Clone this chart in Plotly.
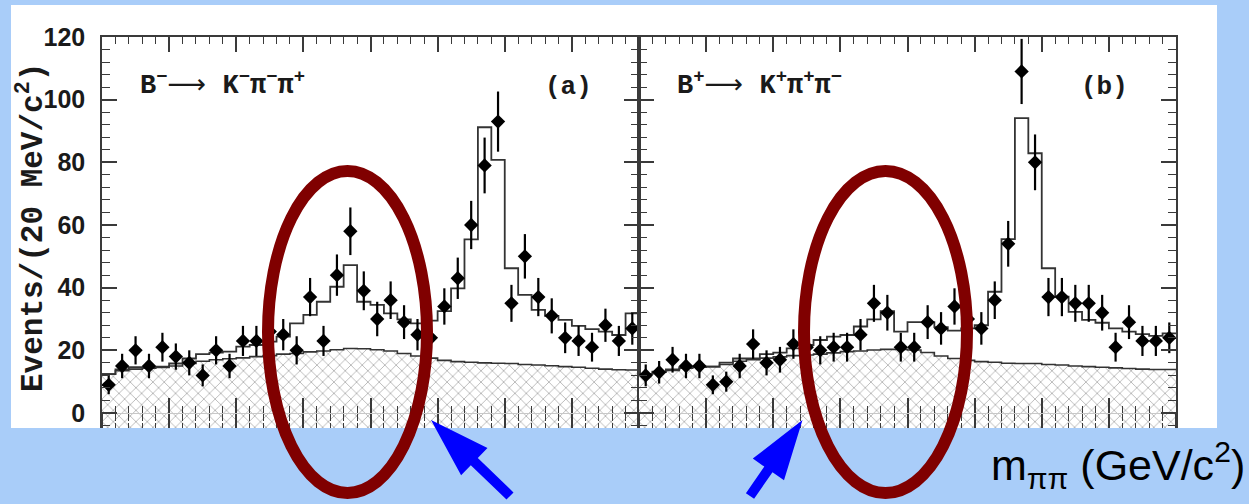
import numpy as np
import plotly.graph_objects as go

# ---------------- data ----------------
mass_lo, mass_hi, bin_w = 0.20, 1.00, 0.02   # m_pipi axis (GeV/c^2), 20 MeV bins
y_top = 120

counts_a = [9, 15, 20, 15, 21, 18, 16, 12, 20, 15, 23, 23, 26, 25, 20, 37, 23, 44, 58, 39,
            30, 36, 29, 25, 24, 34, 43, 60, 79, 93, 35, 50, 37, 31, 24, 23, 21, 28, 23, 27]
err_a = [3.0, 3.9, 4.5, 3.9, 4.6, 4.2, 4.0, 3.5, 4.5, 3.9, 4.8, 4.8, 5.1, 5.0, 4.5, 6.1, 4.8, 6.6, 7.6, 6.2,
         5.5, 6.0, 5.4, 5.0, 4.9, 5.8, 6.6, 7.7, 8.9, 9.6, 5.9, 7.1, 6.1, 5.6, 4.9, 4.8, 4.6, 5.3, 4.8, 5.2]
fit_a = [12.4, 13.9, 14.6, 14.6, 14.8, 15.8, 17.4, 18.8, 19.3, 19.6, 21.2, 21.7, 22.8, 24.4, 28.6, 31.3,
         35.5, 40.3, 47.2, 35.5, 34.5, 31.8, 29.9, 28.6, 29.5, 32.5, 39.8, 55.4, 91.2, 80.8, 46.2, 37.7,
         32.9, 31.0, 29.7, 27.8, 26.8, 26.0, 24.9, 31.8]
bkg_a = [12.4, 13.5, 14.0, 14.3, 14.5, 15.0, 15.8, 16.5, 17.0, 17.3, 17.6, 18.0, 18.3, 18.8, 19.0, 19.5,
         19.8, 20.2, 20.6, 20.5, 20.2, 19.8, 19.0, 18.2, 17.5, 16.8, 16.4, 16.2, 16.0, 15.9, 15.8, 15.5,
         15.3, 15.1, 14.8, 14.6, 14.3, 14.0, 13.8, 13.7]

counts_b = [12, 13, 17, 15, 15, 9, 10, 15, 22, 16, 17, 22, 21, 20, 21, 21, 25, 35, 32, 21,
            21, 29, 27, 34, 30, 27, 36, 54, 109, 80, 37, 37, 35, 35, 32, 21, 29, 23, 23, 24]
err_b = [3.5, 3.6, 4.1, 3.9, 3.9, 3.0, 3.2, 3.9, 4.7, 4.0, 4.1, 4.7, 4.6, 4.5, 4.6, 4.6, 5.0, 5.9, 5.7, 4.6,
         4.6, 5.4, 5.2, 5.8, 5.5, 5.2, 6.0, 7.3, 10.4, 8.9, 6.1, 6.1, 5.9, 5.9, 5.7, 4.6, 5.4, 4.8, 4.8, 4.9]
fit_b = [12.4, 13.2, 13.9, 14.6, 14.8, 14.8, 16.1, 17.4, 17.4, 18.8, 19.3, 20.6, 21.7, 23.3, 24.4, 24.9,
         27.6, 29.9, 32.5, 26.0, 29.0, 29.0, 27.4, 26.3, 27.0, 28.0, 38.7, 55.5, 94.1, 82.9, 46.2, 37.1,
         32.3, 29.7, 28.8, 27.0, 26.0, 25.2, 24.6, 25.4]
bkg_b = [12.4, 13.0, 13.6, 14.3, 14.6, 14.8, 15.5, 16.5, 17.0, 17.5, 17.9, 18.3, 18.5, 18.8, 19.2, 19.6,
         19.8, 20.1, 20.3, 20.3, 20.1, 19.3, 18.2, 17.4, 16.8, 16.4, 16.2, 15.9, 15.8, 15.8, 15.5, 15.3,
         15.0, 14.8, 14.6, 14.4, 14.2, 14.0, 13.9, 13.9]

y_tickvals = [0, 20, 40, 60, 80, 100, 120]

ARW = '<span style="font-family:DejaVu Sans;font-weight:normal">⟶</span>'
label_a = "B<sup>−</sup>" + ARW + " K<sup>−</sup>π<sup>−</sup>π<sup>+</sup>"
label_b = "B<sup>+</sup>" + ARW + " K<sup>+</sup>π<sup>+</sup>π<sup>−</sup>"
y_title = "Events/(20 MeV/c<sup>2</sup>)"
x_title = "m<sub>ππ</sub> (GeV/c<sup>2</sup>)"

# ---------------- geometry (pixels) ----------------
W, H = 1249, 504
PX_LEFT, PX_MID, PX_RIGHT = 102, 639, 1176
PX_TOP, PX_ZERO, PX_BOT = 37, 413, 430
units_per_px = y_top / (PX_ZERO - PX_TOP)
y_bottom = -(PX_BOT - PX_ZERO) * units_per_px

def px(x):
    return x / W

def py(y):
    return 1 - y / H

BLUE_BG = "#a9cdf9"
AX = "#3a3a3a"
MONO = "Liberation Mono, Courier New, monospace"
SANS = "Liberation Sans, Arial, sans-serif"

edges = np.round(mass_lo + bin_w * np.arange(len(counts_a) + 1), 4)
centers = np.round(edges[:-1] + bin_w / 2, 4)

fig = go.Figure()


def add_panel(xref, yref, counts, errs, fit, bkg):
    # floor for hatched background fill
    fig.add_trace(go.Scatter(x=[edges[0], edges[-1]], y=[y_bottom, y_bottom], mode="lines",
                             line=dict(width=0, color="rgba(0,0,0,0)"), xaxis=xref, yaxis=yref,
                             hoverinfo="skip", showlegend=False))
    fig.add_trace(go.Scatter(x=edges, y=list(bkg) + [bkg[-1]], mode="lines", line_shape="hv",
                             line=dict(color="#333333", width=1.6), fill="tonexty",
                             fillcolor="white",
                             fillpattern=dict(shape="x", size=8, solidity=0.22, fgcolor="#707070",
                                              bgcolor="white"),
                             xaxis=xref, yaxis=yref, hoverinfo="skip", showlegend=False))
    fig.add_trace(go.Scatter(x=edges, y=list(fit) + [fit[-1]], mode="lines", line_shape="hv",
                             line=dict(color="#333333", width=1.8), xaxis=xref, yaxis=yref,
                             hoverinfo="skip", showlegend=False))
    fig.add_trace(go.Scatter(x=centers, y=counts, mode="markers",
                             marker=dict(symbol="diamond", size=11, color="black"),
                             error_y=dict(type="data", array=errs, visible=True, thickness=2.2,
                                          width=0, color="black"),
                             xaxis=xref, yaxis=yref, showlegend=False))


add_panel("x", "y", counts_a, err_a, fit_a, bkg_a)
add_panel("x2", "y2", counts_b, err_b, fit_b, bkg_b)

# helper invisible traces so the zero-line tick axes get drawn
for xr, yr in [("x3", "y"), ("x4", "y"), ("x5", "y2"), ("x6", "y2")]:
    fig.add_trace(go.Scatter(x=[centers[0]], y=[0], mode="markers", marker=dict(opacity=0),
                             xaxis=xr, yaxis=yr, hoverinfo="skip", showlegend=False))

dom_a = [px(PX_LEFT), px(PX_MID)]
dom_b = [px(PX_MID), px(PX_RIGHT)]
dom_y = [py(PX_BOT), py(PX_TOP)]


def xaxis(domain, anchor):
    return dict(domain=domain, anchor=anchor, range=[mass_lo, mass_hi], showline=True,
                linecolor=AX, linewidth=1.5, mirror="ticks", ticks="inside", ticklen=15,
                tickwidth=1.5, tickcolor=AX, tick0=mass_lo, dtick=0.1, showticklabels=False,
                showgrid=False, zeroline=False,
                minor=dict(ticks="inside", ticklen=7, tickwidth=1.3, tickcolor=AX,
                           tick0=mass_lo, dtick=bin_w, showgrid=False))


def xzero(domain, over, direction):
    return dict(domain=domain, overlaying=over, anchor="free", position=py(PX_ZERO),
                range=[mass_lo, mass_hi], showline=True, linecolor="#c8c8c8", linewidth=1,
                ticks=direction, ticklen=15, tickwidth=1.5, tickcolor=AX, tick0=mass_lo,
                dtick=0.1, showticklabels=False, showgrid=False, zeroline=False,
                minor=dict(ticks=direction, ticklen=7, tickwidth=1.3, tickcolor=AX,
                           tick0=mass_lo, dtick=bin_w, showgrid=False))


def yaxis(anchor, labels):
    return dict(domain=dom_y, anchor=anchor, range=[y_bottom, y_top], showline=True,
                linecolor=AX, linewidth=1.5, mirror="ticks", ticks="inside", ticklen=15,
                tickwidth=1.5, tickcolor=AX, tickvals=y_tickvals,
                ticktext=[str(v) for v in y_tickvals], showticklabels=labels,
                tickfont=dict(family=SANS, size=25, color="#1a1a1a", weight="bold"),
                ticklabelstandoff=10, showgrid=False, zeroline=False,
                minor=dict(ticks="inside", ticklen=8, tickwidth=1.3, tickcolor=AX,
                           tick0=0, dtick=4, showgrid=False))


# ---------------- shapes ----------------
def path(points):
    return "M " + " L ".join(f"{px(x):.5f},{py(y):.5f}" for x, y in points) + " Z"

ELL_W = 12
RED = "#800000"
ARROW = "#0000ff"
arrow1 = [(431, 420), (487.5, 447.9), (477.8, 458.0), (513.5, 492.4), (506.5, 499.6),
          (470.8, 465.2), (461.1, 475.3)]
arrow2 = [(802.5, 420), (784.0, 480.2), (772.5, 472.2), (754.1, 498.8), (745.9, 493.2),
          (764.3, 466.6), (752.8, 458.6)]

shapes = [
    dict(type="rect", xref="paper", yref="paper", x0=px(11), x1=px(1217), y0=py(428), y1=py(5),
         fillcolor="white", line=dict(width=0), layer="below"),
    dict(type="rect", xref="paper", yref="paper", x0=0, x1=1, y0=0, y1=py(428),
         fillcolor=BLUE_BG, line=dict(width=0), layer="above"),
    dict(type="circle", xref="paper", yref="paper", x0=px(262 + ELL_W / 2), x1=px(433 - ELL_W / 2),
         y0=py(499 - ELL_W / 2), y1=py(165 + ELL_W / 2), line=dict(color=RED, width=ELL_W),
         fillcolor="rgba(0,0,0,0)", layer="above"),
    dict(type="circle", xref="paper", yref="paper", x0=px(798 + ELL_W / 2), x1=px(973 - ELL_W / 2),
         y0=py(499 - ELL_W / 2), y1=py(165 + ELL_W / 2), line=dict(color=RED, width=ELL_W),
         fillcolor="rgba(0,0,0,0)", layer="above"),
    dict(type="path", xref="paper", yref="paper", path=path(arrow1), fillcolor=ARROW,
         line=dict(width=0), layer="above"),
    dict(type="path", xref="paper", yref="paper", path=path(arrow2), fillcolor=ARROW,
         line=dict(width=0), layer="above"),
]

annotations = [
    dict(text=y_title, xref="paper", yref="paper", x=px(31), y=py(228), xanchor="center",
         yanchor="middle", textangle=-90, showarrow=False,
         font=dict(family=MONO, size=31, color="#1a1a1a", weight="bold")),
    dict(text=label_a, xref="paper", yref="paper", x=px(138), y=py(84), xanchor="left",
         yanchor="middle", showarrow=False,
         font=dict(family=MONO, size=27, color="#1a1a1a", weight="bold")),
    dict(text="(a)", xref="paper", yref="paper", x=px(568), y=py(87), xanchor="center",
         yanchor="middle", showarrow=False,
         font=dict(family=MONO, size=26, color="#1a1a1a", weight="bold")),
    dict(text=label_b, xref="paper", yref="paper", x=px(675), y=py(84), xanchor="left",
         yanchor="middle", showarrow=False,
         font=dict(family=MONO, size=27, color="#1a1a1a", weight="bold")),
    dict(text="(b)", xref="paper", yref="paper", x=px(1104), y=py(87), xanchor="center",
         yanchor="middle", showarrow=False,
         font=dict(family=MONO, size=26, color="#1a1a1a", weight="bold")),
    dict(text=x_title, xref="paper", yref="paper", x=px(1247), y=py(465), xanchor="right",
         yanchor="middle", showarrow=False,
         font=dict(family=SANS, size=43, color="black")),
]

fig.update_layout(
    width=W, height=H, margin=dict(l=0, r=0, t=0, b=0, autoexpand=False),
    paper_bgcolor=BLUE_BG, plot_bgcolor="rgba(0,0,0,0)", showlegend=False,
    xaxis=xaxis(dom_a, "y"), xaxis2=xaxis(dom_b, "y2"),
    xaxis3=xzero(dom_a, "x", "outside"), xaxis4=xzero(dom_a, "x", "inside"),
    xaxis5=xzero(dom_b, "x2", "outside"), xaxis6=xzero(dom_b, "x2", "inside"),
    yaxis=yaxis("x", True), yaxis2=yaxis("x2", False),
    shapes=shapes, annotations=annotations,
)

fig.write_html("out.html")
